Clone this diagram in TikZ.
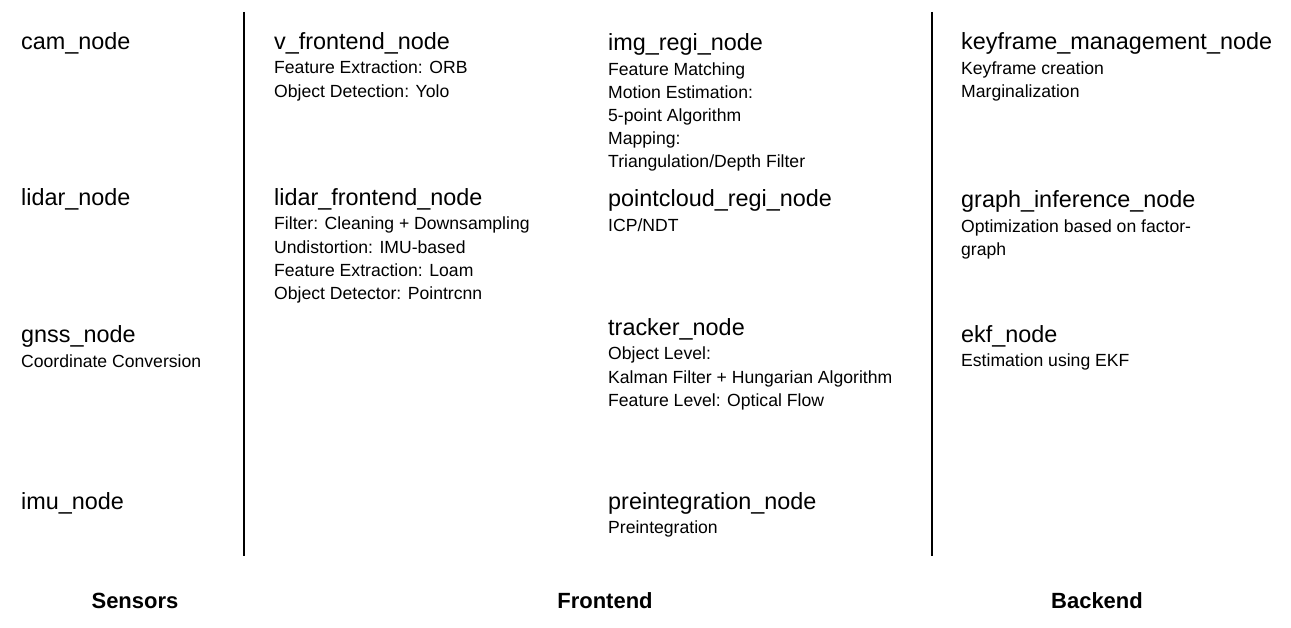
\documentclass[tikz,border=0pt]{standalone}
\usepackage{fontspec}
\setmainfont{Liberation Sans}
\usetikzlibrary{positioning}
\tikzset{
  title/.style={anchor=base west, inner sep=0pt, font=\fontsize{23.4}{27}\selectfont},
  body/.style={anchor=north west, inner sep=0pt, align=left, font=\fontsize{17.6}{23.2}\selectfont},
  layer/.style={anchor=base, inner sep=0pt, font=\fontsize{22}{26}\selectfont\bfseries},
  divider/.style={line width=2.4pt}
}
\begin{document}
\begin{tikzpicture}[x=1pt, y=-1pt]
	\useasboundingbox (0,0) rectangle (1291,628);
	% sensors
	\node[title] (cam) at (21, 50) {cam\_node};
	\node[title] (lidar) at (21, 206) {lidar\_node};
	\node[title] (gnss) at (21, 343) {gnss\_node};
	\node[body, below=6pt of gnss.south west, anchor=north west] (gnssb) {Coordinate Conversion};
	\node[title] (imu) at (21, 509) {imu\_node};
	% frontend
	\node[title] (vfront) at (274, 50) {v\_frontend\_node};
	\node[body, below=6pt of vfront.south west, anchor=north west] (vfrontb) {Feature Extraction: ORB\\Object Detection: Yolo};
	\node[title] (lfront) at (274, 206) {lidar\_frontend\_node};
	\node[body, below=6pt of lfront.south west, anchor=north west] (lfrontb) {Filter: Cleaning + Downsampling\\Undistortion: IMU-based\\Feature Extraction: Loam\\Object Detector: Pointrcnn};
	\node[title] (imgregi) at (608, 51) {img\_regi\_node};
	\node[body, below=6pt of imgregi.south west, anchor=north west] (imgregib) {Feature Matching\\Motion Estimation:\\5-point Algorithm\\Mapping:\\Triangulation/Depth Filter};
	\node[title] (pcregi) at (608, 207) {pointcloud\_regi\_node};
	\node[body, below=6pt of pcregi.south west, anchor=north west] (pcregib) {ICP/NDT};
	\node[title] (tracker) at (608, 336) {tracker\_node};
	\node[body, below=6pt of tracker.south west, anchor=north west] (trackerb) {Object Level:\\Kalman Filter + Hungarian Algorithm\\Feature Level: Optical Flow};
	\node[title] (preint) at (608, 509) {preintegration\_node};
	\node[body, below=6pt of preint.south west, anchor=north west] (preintb) {Preintegration};
	% backend
	\node[title] (kfm) at (961, 50) {keyframe\_management\_node};
	\node[body, below=6pt of kfm.south west, anchor=north west] (kfmb) {Keyframe creation\\Marginalization};
	\node[title] (graph) at (961, 208) {graph\_inference\_node};
	\node[body, below=6pt of graph.south west, anchor=north west] (graphb) {Optimization based on factor-\\graph};
	\node[title] (ekf) at (961, 343) {ekf\_node};
	\node[body, below=6pt of ekf.south west, anchor=north west] (ekfb) {Estimation using EKF};
	% dividers
	\draw[divider] (244, 12) -- (244, 556);
	\draw[divider] (932, 12) -- (932, 556);
	% layer names
	\node[layer] (sensors) at (135, 608) {Sensors};
	\node[layer] (frontend) at (605, 608) {Frontend};
	\node[layer] (backend) at (1097, 608) {Backend};
\end{tikzpicture}
\end{document}
